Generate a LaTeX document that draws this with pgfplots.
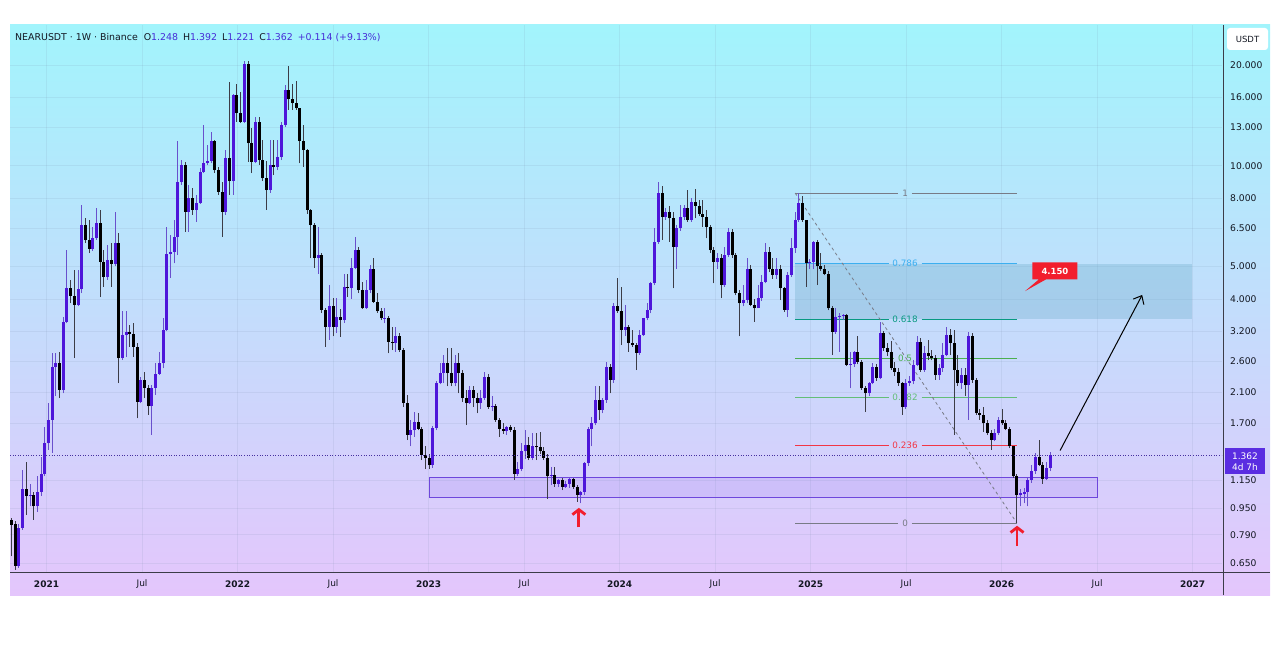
\documentclass[border=0pt]{standalone}
\usepackage{fontspec}
\setmainfont{DejaVu Sans}
\usepackage{pgfplots}
\pgfplotsset{compat=1.18}
\usepackage{pgfplotstable}
\usetikzlibrary{arrows.meta,shapes.callouts}
\definecolor{bgtop}{RGB}{162,244,252}
\definecolor{bgbot}{RGB}{228,198,252}
\definecolor{tvtext}{RGB}{19,23,34}
\definecolor{tvval}{RGB}{70,45,215}
\definecolor{upbody}{RGB}{78,22,218}
\definecolor{upwick}{RGB}{105,80,205}
\definecolor{dnbody}{RGB}{0,0,0}
\definecolor{dnwick}{RGB}{60,60,70}
\definecolor{fibgray}{RGB}{120,123,134}
\definecolor{fibblue}{RGB}{60,175,240}
\definecolor{fibteal}{RGB}{8,153,129}
\definecolor{fibgreen}{RGB}{76,175,80}
\definecolor{fiblgreen}{RGB}{100,190,120}
\definecolor{fibred}{RGB}{242,54,69}
\definecolor{boxteal}{RGB}{101,168,198}
\definecolor{boxpurp}{RGB}{148,105,239}
\definecolor{boxpurpline}{RGB}{110,70,220}
\definecolor{pricebox}{RGB}{90,45,225}
\definecolor{tvred}{RGB}{242,30,45}
\definecolor{axisline}{RGB}{60,60,72}

\pgfplotstableread{
k O H L C
0 0.874 0.886 0.68 0.845
1 0.85 0.865 0.62 0.638
2 0.638 0.85 0.63 0.826
3 0.826 1.233 0.816 1.08
4 1.08 1.305 0.905 1.03
5 1.03 1.12 0.96 1.04
6 1.04 1.06 0.874 0.96
7 0.96 1.18 0.925 1.06
8 1.06 1.35 1.03 1.20
9 1.20 1.66 1.18 1.48
10 1.48 1.95 1.415 1.74
11 1.74 2.75 1.39 2.51
12 2.51 2.75 2.05 2.57
13 2.57 2.78 2.02 2.14
14 2.14 3.54 2.09 3.42
15 3.42 5.60 3.38 4.30
16 4.30 4.56 3.88 4.08
17 4.08 4.88 2.66 3.84
18 3.84 4.88 3.80 4.27
19 4.27 7.63 4.16 6.65
20 6.65 6.96 5.87 6.00
21 6.00 6.88 5.48 5.63
22 5.63 6.57 5.57 6.07
23 6.07 7.46 6.00 6.73
24 6.73 7.38 4.05 5.17
25 5.17 5.60 4.35 4.65
26 4.65 5.80 4.56 5.23
27 5.23 5.87 4.35 5.08
28 5.08 7.30 5.00 5.87
29 5.87 6.28 2.24 2.66
30 2.66 3.67 2.63 3.12
31 3.12 3.67 2.69 3.19
32 3.19 3.34 2.88 3.14
33 3.14 3.38 2.69 2.88
34 2.88 2.95 1.76 1.97
35 1.97 2.34 1.95 2.29
36 2.29 2.42 2.02 2.17
37 2.17 2.21 1.80 1.91
38 1.91 2.21 1.57 2.17
39 2.17 2.57 2.07 2.39
40 2.39 2.78 2.37 2.57
41 2.57 3.50 2.48 3.23
42 3.23 6.57 3.20 5.44
43 5.44 6.21 4.62 5.52
44 5.52 6.88 5.11 6.14
45 6.14 11.86 5.41 8.97
46 8.97 10.40 8.76 10.05
47 10.05 10.28 6.36 7.30
48 7.30 8.76 6.36 7.99
49 7.99 8.56 7.13 7.38
50 7.38 8.18 6.80 7.72
51 7.72 9.82 7.70 9.60
52 9.60 13.24 9.49 10.16
53 10.16 11.54 10.05 10.33
54 10.33 12.60 10.16 11.86
55 11.86 11.94 9.50 9.71
56 9.71 9.90 8.18 8.36
57 8.36 8.97 6.14 7.30
58 7.30 11.14 7.13 10.52
59 10.52 17.8 8.18 9.00
60 9.00 16.4 8.18 16.27
61 16.27 17.6 13.55 14.35
62 14.35 16.6 13.4 13.55
63 13.55 20.6 13.4 20.1
64 20.1 20.5 10.28 11.67
65 11.67 12.95 9.50 10.28
66 10.28 14.0 10.16 13.55
67 13.55 14.0 10.05 10.40
68 10.40 11.94 9.00 9.17
69 9.17 10.3 7.38 8.46
70 8.46 11.9 8.3 10.05
71 10.05 11.94 9.38 9.93
72 9.93 11.94 9.71 10.62
73 10.62 13.55 10.40 13.24
74 13.24 17.43 13.1 16.84
75 16.84 19.8 14.68 15.8
76 15.8 17.6 14.68 15.4
77 15.4 17.9 14.68 14.85
78 14.85 14.9 10.16 11.86
79 11.86 13.24 9.93 11.14
80 11.14 11.2 7.2 7.38
81 7.38 7.45 5.30 6.65
82 6.65 6.75 4.96 5.31
83 5.31 6.57 4.76 5.40
84 5.40 5.50 3.63 3.71
85 3.71 3.75 2.88 3.30
86 3.30 4.40 3.02 3.80
87 3.80 4.02 3.09 3.30
88 3.30 4.02 3.16 3.54
89 3.54 3.73 3.08 3.46
90 3.46 4.76 3.39 4.35
91 4.35 4.76 4.05 4.30
92 4.30 5.30 4.00 4.96
93 4.96 6.14 4.90 5.60
94 5.60 5.70 4.16 4.25
95 4.25 4.50 3.73 3.75
96 3.75 4.56 3.73 4.25
97 4.25 5.05 4.16 4.93
98 4.93 5.30 3.90 3.92
99 3.92 4.16 3.64 3.67
100 3.67 3.76 3.46 3.50
101 3.50 3.76 3.38 3.52
102 3.52 3.55 2.75 2.98
103 2.98 3.30 2.81 2.96
104 2.96 3.30 2.78 3.09
105 3.09 3.16 2.78 2.81
106 2.81 2.85 1.90 1.96
107 1.96 2.07 1.515 1.57
108 1.57 1.74 1.45 1.62
109 1.62 1.84 1.55 1.72
110 1.72 1.82 1.62 1.64
111 1.64 1.66 1.32 1.37
112 1.37 1.45 1.24 1.34
113 1.34 1.38 1.24 1.275
114 1.275 1.67 1.25 1.65
115 1.65 2.27 1.62 2.24
116 2.24 2.57 2.22 2.40
117 2.40 2.72 2.24 2.57
118 2.57 2.85 2.19 2.40
119 2.40 2.85 2.19 2.24
120 2.24 2.72 2.19 2.57
121 2.57 2.76 2.09 2.40
122 2.40 2.45 1.97 2.02
123 2.02 2.14 1.68 1.95
124 1.95 2.19 1.94 2.14
125 2.14 2.19 1.90 2.02
126 2.02 2.10 1.82 1.95
127 1.95 2.14 1.88 2.02
128 2.02 2.42 2.00 2.34
129 2.34 2.38 1.88 1.90
130 1.90 2.05 1.85 1.92
131 1.92 1.94 1.72 1.74
132 1.74 1.76 1.55 1.64
133 1.64 1.70 1.58 1.61
134 1.61 1.67 1.57 1.66
135 1.66 1.68 1.60 1.62
136 1.62 1.66 1.151 1.20
137 1.20 1.30 1.18 1.24
138 1.24 1.48 1.22 1.40
139 1.40 1.62 1.33 1.46
140 1.46 1.55 1.32 1.34
141 1.34 1.59 1.32 1.45
142 1.45 1.59 1.32 1.44
143 1.44 1.60 1.38 1.40
144 1.40 1.44 1.32 1.34
145 1.34 1.38 1.01 1.18
146 1.18 1.26 1.11 1.19
147 1.19 1.26 1.10 1.12
148 1.12 1.16 1.10 1.151
149 1.151 1.17 1.074 1.10
150 1.10 1.14 1.09 1.12
151 1.12 1.17 1.09 1.16
152 1.16 1.17 1.08 1.10
153 1.10 1.11 0.99 1.04
154 1.04 1.07 0.98 1.06
155 1.06 1.30 1.04 1.29
156 1.29 1.66 1.27 1.64
157 1.64 1.78 1.45 1.70
158 1.70 2.19 1.68 1.995
159 1.995 2.19 1.74 1.86
160 1.86 2.02 1.82 1.995
161 1.995 2.60 1.96 2.51
162 2.51 2.55 2.09 2.29
163 2.29 3.88 2.25 3.80
164 3.80 4.62 3.64 3.67
165 3.67 4.35 2.91 3.23
166 3.23 3.84 3.10 3.30
167 3.30 3.35 2.78 2.95
168 2.95 3.23 2.88 2.91
169 2.91 2.95 2.45 2.76
170 2.76 3.23 2.72 3.12
171 3.12 3.52 3.10 3.50
172 3.50 3.88 3.45 3.71
173 3.71 4.50 3.62 4.45
174 4.45 6.50 4.40 5.93
175 5.93 8.97 5.85 8.27
176 8.27 8.70 6.00 7.02
177 7.02 7.50 6.90 7.30
178 7.30 7.60 5.93 6.96
179 6.96 7.30 4.30 5.73
180 5.73 6.65 4.93 6.50
181 6.50 7.63 6.40 7.02
182 7.02 7.63 6.90 7.46
183 7.46 8.46 6.80 6.88
184 6.88 8.00 6.80 7.80
185 7.80 8.55 6.96 7.60
186 7.60 7.90 7.10 7.20
187 7.20 7.90 6.57 7.02
188 7.02 7.38 6.07 6.57
189 6.57 6.65 5.50 5.60
190 5.60 5.70 4.45 5.17
191 5.17 5.50 4.90 5.30
192 5.30 5.45 4.02 4.40
193 4.40 5.70 4.35 5.41
194 5.41 6.50 5.35 6.36
195 6.36 6.45 5.30 5.41
196 5.41 5.50 4.10 4.16
197 4.16 4.25 3.09 3.88
198 3.88 4.40 3.80 3.97
199 3.97 5.30 3.88 4.93
200 4.93 5.05 3.80 3.84
201 3.84 4.00 3.42 3.75
202 3.75 4.40 3.75 4.02
203 4.02 4.70 3.95 4.50
204 4.50 5.87 4.45 5.52
205 5.52 5.70 4.80 4.93
206 4.93 5.30 4.60 4.72
207 4.72 5.30 4.60 4.93
208 4.93 5.05 3.97 4.30
209 4.30 4.35 3.65 3.71
210 3.71 4.80 3.54 4.72
211 4.72 6.07 4.65 5.67
212 5.67 7.30 5.50 6.88
213 6.88 8.29 6.80 7.72
214 7.72 8.10 6.80 6.88
215 6.88 6.90 4.35 5.11
216 5.11 5.25 4.90 5.17
217 5.17 5.95 4.90 5.93
218 5.93 6.00 4.40 5.00
219 5.00 5.50 4.85 4.93
220 4.93 5.05 4.70 4.76
221 4.76 4.85 3.70 3.75
222 3.75 3.80 2.72 3.19
223 3.19 3.75 3.15 3.54
224 3.54 3.62 2.78 3.56
225 3.56 3.60 3.45 3.58
226 3.58 3.60 2.52 2.54
227 2.54 2.78 2.16 2.55
228 2.55 2.80 2.50 2.78
229 2.78 3.09 2.55 2.60
230 2.60 2.62 2.14 2.16
231 2.16 2.20 1.84 2.09
232 2.09 2.26 2.05 2.24
233 2.24 2.58 2.22 2.51
234 2.51 2.55 2.28 2.32
235 2.32 3.42 2.30 3.16
236 3.16 3.20 2.80 2.85
237 2.85 2.95 2.70 2.78
238 2.78 3.00 2.45 2.48
239 2.48 2.60 2.35 2.42
240 2.42 2.48 2.20 2.25
241 2.25 2.26 1.80 1.90
242 1.90 2.30 1.88 2.25
243 2.25 2.35 2.20 2.27
244 2.27 2.62 2.22 2.54
245 2.54 3.09 2.52 2.98
246 2.98 3.05 2.42 2.45
247 2.45 2.90 2.42 2.75
248 2.75 3.02 2.62 2.70
249 2.70 2.82 2.62 2.66
250 2.66 2.72 2.29 2.37
251 2.37 2.55 2.29 2.48
252 2.48 2.95 2.42 2.72
253 2.72 3.30 2.70 3.12
254 3.12 3.25 2.72 2.95
255 2.95 3.23 1.57 2.45
256 2.45 2.72 2.20 2.25
257 2.25 2.48 2.15 2.37
258 2.37 2.48 2.05 2.21
259 2.21 3.19 1.74 3.09
260 3.09 3.16 2.25 2.29
261 2.29 2.32 1.80 1.82
262 1.82 1.88 1.74 1.80
263 1.80 1.90 1.60 1.70
264 1.70 1.74 1.57 1.59
265 1.59 1.62 1.415 1.515
266 1.515 1.63 1.50 1.59
267 1.59 1.78 1.57 1.74
268 1.74 1.88 1.68 1.70
269 1.70 1.74 1.62 1.64
270 1.64 1.66 1.43 1.45
271 1.45 1.45 1.17 1.18
272 1.18 1.20 0.856 1.04
273 1.04 1.08 0.96 1.05
274 1.045 1.09 0.98 1.06
275 1.06 1.17 0.96 1.151
276 1.151 1.28 1.13 1.22
277 1.22 1.39 1.20 1.35
278 1.35 1.515 1.27 1.275
279 1.275 1.30 1.12 1.16
280 1.16 1.30 1.15 1.248
281 1.248 1.392 1.221 1.362
}\candles

\begin{document}
\begin{tikzpicture}[x=1pt,y=1pt]
\useasboundingbox (0,0) rectangle (1280,649);
\shade[top color=bgtop,bottom color=bgbot] (10,54) rectangle (1270,624);
\begin{axis}[
  at={(10pt,77pt)}, anchor=south west,
  scale only axis, width=1212pt, height=547pt,
  xmin=-0.41, xmax=327.5,
  ymode=log, ymin=0.611, ymax=26.34,
  axis line style={draw=none},
  major tick length=0pt, minor tick length=0pt,
  grid=major,
  grid style={draw={rgb,255:red,120;green,140;blue,170}, draw opacity=0.13, line width=0.6pt},
  xtick={9.47,35.31,61.15,86.99,112.83,138.67,164.51,190.35,216.19,242.03,267.87,293.71,319.55},
  xticklabels={\textbf{2021},Jul,\textbf{2022},Jul,\textbf{2023},Jul,\textbf{2024},Jul,\textbf{2025},Jul,\textbf{2026},Jul,\textbf{2027}},
  xticklabel style={anchor=center, yshift=-12pt, font=\fontsize{9}{10}\selectfont, text=tvtext},
  ytick={0.65,0.79,0.95,1.15,1.7,2.1,2.6,3.2,4,5,6.5,8,10,13,16,20},
  yticklabels={0.650,0.790,0.950,1.150,1.700,2.100,2.600,3.200,4.000,5.000,6.500,8.000,10.000,13.000,16.000,20.000},
  yticklabel pos=right,
  yticklabel style={anchor=west, xshift=8pt, inner sep=0pt, font=\fontsize{9.2}{10}\selectfont, text=tvtext},
  /pgf/number format/assume math mode=true,
  clip=true,
]
% fib zone box
\fill[boxteal, fill opacity=0.3] (axis cs:212,3.48) rectangle (axis cs:319.4,5.10);
% support rectangle
\filldraw[fill=boxpurp, fill opacity=0.15, draw=boxpurpline, line width=1pt] (axis cs:113.2,1.017) rectangle (axis cs:293.7,1.167);
% fib lines
\draw[fibgray, line width=0.8pt] (axis cs:212,8.29) -- (axis cs:239.9,8.29) (axis cs:243.6,8.29) -- (axis cs:272,8.29);
\draw[fibblue, line width=0.8pt] (axis cs:212,5.10) -- (axis cs:237.3,5.10) (axis cs:246.2,5.10) -- (axis cs:272,5.10);
\draw[fibteal, line width=0.8pt] (axis cs:212,3.48) -- (axis cs:237.3,3.48) (axis cs:246.2,3.48) -- (axis cs:272,3.48);
\draw[fibgreen, line width=0.8pt] (axis cs:212,2.665) -- (axis cs:238.7,2.665) (axis cs:244.8,2.665) -- (axis cs:272,2.665);
\draw[fiblgreen, line width=0.8pt] (axis cs:212,2.038) -- (axis cs:237.3,2.038) (axis cs:246.2,2.038) -- (axis cs:272,2.038);
\draw[fibred, line width=0.8pt] (axis cs:212,1.463) -- (axis cs:237.3,1.463) (axis cs:246.2,1.463) -- (axis cs:272,1.463);
\draw[fibgray, line width=0.8pt] (axis cs:212,0.856) -- (axis cs:239.9,0.856) (axis cs:243.6,0.856) -- (axis cs:272,0.856);
\begin{scope}[font=\fontsize{8.8}{10}\selectfont]
\node[text=fibgray] at (axis cs:241.75,8.29) {1};
\node[text=fibblue] at (axis cs:241.75,5.10) {0.786};
\node[text=fibteal] at (axis cs:241.75,3.48) {0.618};
\node[text=fibgreen] at (axis cs:241.75,2.665) {0.5};
\node[text=fiblgreen] at (axis cs:241.75,2.038) {0.382};
\node[text=fibred] at (axis cs:241.75,1.463) {0.236};
\node[text=fibgray] at (axis cs:241.75,0.856) {0};
\end{scope}
\draw[fibgray, line width=0.8pt, dash pattern=on 3pt off 3pt] (axis cs:212,8.29) -- (axis cs:272,0.856);
% candles: wicks
\addplot[draw=none, no markers, forget plot, error bars/.cd, y dir=plus, y explicit, error mark=none,
  error bar style={line width=1pt, draw=upwick}]
  table[x expr={\thisrow{C}>=\thisrow{O} ? \thisrow{k} : -100}, y=L, y error plus expr={\thisrow{H}-\thisrow{L}}] {\candles};
\addplot[draw=none, no markers, forget plot, error bars/.cd, y dir=plus, y explicit, error mark=none,
  error bar style={line width=1pt, draw=dnwick}]
  table[x expr={\thisrow{C}<\thisrow{O} ? \thisrow{k} : -100}, y=L, y error plus expr={\thisrow{H}-\thisrow{L}}] {\candles};
% bodies
\addplot[draw=none, no markers, forget plot, error bars/.cd, y dir=plus, y explicit, error mark=none,
  error bar style={line width=3pt, draw=upbody}]
  table[x expr={\thisrow{C}>=\thisrow{O} ? \thisrow{k} : -100}, y=O, y error plus expr={\thisrow{C}-\thisrow{O}}] {\candles};
\addplot[draw=none, no markers, forget plot, error bars/.cd, y dir=plus, y explicit, error mark=none,
  error bar style={line width=3pt, draw=dnbody}]
  table[x expr={\thisrow{C}<\thisrow{O} ? \thisrow{k} : -100}, y=C, y error plus expr={\thisrow{O}-\thisrow{C}}] {\candles};
% current price line
\draw[draw={rgb,255:red,70;green,50;blue,160}, line width=0.6pt, dotted] (axis cs:-0.41,1.362) -- (axis cs:327.5,1.362);
% projection arrow
\draw[black, line width=1pt, -{Straight Barb[length=7pt,width=12pt]}] (axis cs:283.7,1.41) -- (axis cs:305.9,4.11);
% red arrows
\draw[tvred, line width=2.8pt, -{Straight Barb[length=5pt,width=13pt,line width=2.8pt]}] (axis cs:153.5,0.83) -- (axis cs:153.5,0.95);
\draw[tvred, line width=2.8pt, -{Straight Barb[length=5pt,width=13pt,line width=2.8pt]}] (axis cs:272.05,0.73) -- (axis cs:272.05,0.84);
% red label
\node[rectangle callout, fill=tvred, text=white, font=\bfseries\fontsize{8.5}{9}\selectfont,
  minimum width=45pt, minimum height=17pt, inner sep=1pt,
  callout absolute pointer={(axis cs:274.2,4.22)}] at (axis cs:282.3,4.85) {4.150};
\end{axis}
% axis lines
\draw[axisline, line width=0.8pt] (10,77) -- (1270,77);
\draw[axisline, line width=0.8pt] (1223,54) -- (1223,624);
% USDT box
\fill[white, rounded corners=3pt] (1227,599) rectangle (1268,621);
\node[text=tvtext, font=\fontsize{8.5}{9}\selectfont] at (1247.5,610) {USDT};
% price box
\fill[pricebox] (1225,175) rectangle (1265,201);
\node[text=white, font=\fontsize{9}{9}\selectfont, inner sep=0pt] at (1245,192.3) {1.362};
\node[text=white, font=\fontsize{9}{9}\selectfont, inner sep=0pt] at (1245,181.7) {4d 7h};
% title
\node[anchor=west, inner sep=0pt, font=\fontsize{9.4}{10}\selectfont] at (15,611)
 {\textcolor{tvtext}{NEARUSDT · 1W · Binance}\hspace{6pt}\textcolor{tvtext}{O}\textcolor{tvval}{1.248}\hspace{5pt}\textcolor{tvtext}{H}\textcolor{tvval}{1.392}\hspace{5pt}\textcolor{tvtext}{L}\textcolor{tvval}{1.221}\hspace{5pt}\textcolor{tvtext}{C}\textcolor{tvval}{1.362}\hspace{5pt}\textcolor{tvval}{+0.114 (+9.13\%)}};
\end{tikzpicture}
\end{document}
